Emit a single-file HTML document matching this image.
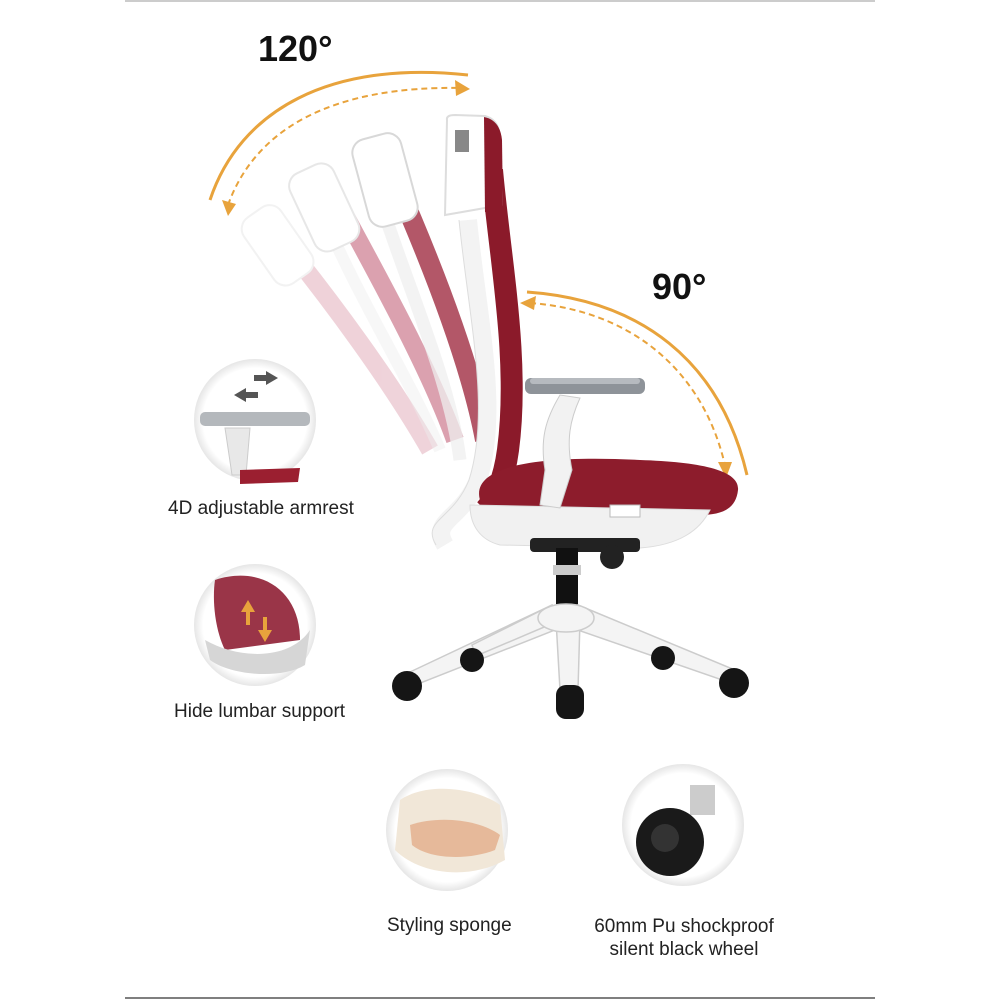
<!DOCTYPE html>
<html><head><style>
html,body{margin:0;padding:0;background:#fff;}
body{width:1000px;height:1000px;position:relative;overflow:hidden;font-family:"Liberation Sans","DejaVu Sans",sans-serif;}
.t{position:absolute;color:#222;white-space:nowrap;}
</style></head><body>
<svg width="1000" height="1000" viewBox="0 0 1000 1000" style="position:absolute;left:0;top:0">
<defs>
<marker id="ah" markerWidth="8" markerHeight="8" refX="4" refY="4" orient="auto" markerUnits="userSpaceOnUse"><path d="M0,0 L8,4 L0,8 Z" fill="#e8a33c"/></marker>
<radialGradient id="cg" cx="50%" cy="50%" r="50%"><stop offset="85%" stop-color="#fff"/><stop offset="100%" stop-color="#e6e6e6"/></radialGradient>
</defs>
<line x1="125" y1="1" x2="875" y2="1" stroke="#bbb" stroke-width="1.5"/>
<line x1="125" y1="998" x2="875" y2="998" stroke="#555" stroke-width="1.5"/>
<!-- 120 arc -->
<path d="M210 200 C240 110 330 60 468 75" fill="none" stroke="#e8a33c" stroke-width="3"/>
<path d="M228 205 C255 130 330 85 465 88" fill="none" stroke="#e8a33c" stroke-width="2" stroke-dasharray="6,4"/>
<path d="M455 80 L470 89 L456 96 Z" fill="#e8a33c"/>
<path d="M222 200 L228 216 L236 204 Z" fill="#e8a33c"/>
<!-- 90 arc -->
<path d="M527 292 C640 300 720 360 747 475" fill="none" stroke="#e8a33c" stroke-width="3"/>
<path d="M530 303 C630 310 705 370 726 470" fill="none" stroke="#e8a33c" stroke-width="2" stroke-dasharray="6,4"/>
<path d="M520 303 L536 296 L534 310 Z" fill="#e8a33c"/>
<path d="M718 462 L726 478 L732 462 Z" fill="#e8a33c"/>
<!-- ghost backs -->
<g opacity="0.25">
<path d="M290 250 C330 300 390 380 430 450" stroke="#c0506a" stroke-width="18" fill="none"/>
<rect x="255" y="205" width="45" height="80" rx="14" fill="#fff" stroke="#ccc" stroke-width="2" transform="rotate(-35 278 245)"/>
</g>
<g opacity="0.45">
<path d="M345 215 C380 280 430 370 455 440" stroke="#b03050" stroke-width="18" fill="none"/>
<path d="M330 230 C360 300 410 380 440 450" stroke="#eee" stroke-width="12" fill="none"/>
<rect x="300" y="165" width="48" height="85" rx="14" fill="#fff" stroke="#ccc" stroke-width="2" transform="rotate(-25 324 207)"/>
</g>
<g opacity="0.75">
<path d="M395 180 C430 260 470 360 485 440" stroke="#9a2036" stroke-width="20" fill="none"/>
<path d="M380 200 C405 280 450 380 460 460" stroke="#f0f0f0" stroke-width="13" fill="none"/>
<rect x="360" y="135" width="50" height="90" rx="14" fill="#fff" stroke="#ccc" stroke-width="2" transform="rotate(-15 385 180)"/>
</g>
<!-- main back -->
<path d="M468 220 C478 320 500 410 478 480 C462 520 430 520 445 545" stroke="#f3f3f3" stroke-width="18" fill="none"/>
<path d="M468 220 C478 320 500 410 478 480 C462 520 430 520 445 545" stroke="#ddd" stroke-width="1" fill="none" transform="translate(-9 0)"/>
<path d="M492 170 C500 260 520 360 508 450 C504 480 495 500 485 510" stroke="#8b1a2a" stroke-width="22" fill="none"/>
<path d="M447 120 Q446 115 455 115 L485 116 Q500 120 500 140 L502 205 L445 215 Z" fill="#fff" stroke="#ddd" stroke-width="2"/>
<path d="M484 117 Q500 120 502 140 L503 210 L485 212 Z" fill="#8b1a2a"/>
<rect x="455" y="130" width="14" height="22" fill="#888"/>
<!-- seat -->
<path d="M480 500 C470 465 540 455 640 460 C700 462 740 470 738 490 C736 510 720 515 700 515 L500 520 Z" fill="#8d1c2c"/>
<path d="M470 505 L710 510 C700 530 680 545 640 548 L500 545 C480 540 470 525 470 505 Z" fill="#f1f1f1" stroke="#ddd"/>
<rect x="610" y="505" width="30" height="12" fill="#fff" stroke="#bbb"/>
<!-- armrest -->
<path d="M560 395 C545 420 540 440 545 470 L540 505 L560 508 L572 470 C566 440 570 420 580 398 Z" fill="#f2f2f2" stroke="#ccc"/>
<rect x="525" y="378" width="120" height="16" rx="6" fill="#8e9399"/>
<rect x="530" y="378" width="110" height="6" rx="3" fill="#b6babf"/>
<!-- mechanism & gas lift -->
<rect x="530" y="538" width="110" height="14" rx="4" fill="#222"/>
<circle cx="612" cy="557" r="12" fill="#222"/>
<rect x="556" y="548" width="22" height="60" fill="#111"/>
<rect x="553" y="565" width="28" height="10" fill="#ccc"/>
<!-- base -->
<g fill="#f4f4f4" stroke="#ccc" stroke-width="1.5">
<path d="M552 605 L410 672 L418 684 L560 628 Z"/>
<path d="M552 605 L472 645 L476 656 L556 622 Z"/>
<path d="M575 605 L660 645 L656 656 L572 622 Z"/>
<path d="M578 605 L735 670 L728 682 L572 628 Z"/>
<path d="M556 620 L560 690 L578 690 L580 620 Z"/>
<ellipse cx="566" cy="618" rx="28" ry="14"/>
</g>
<g fill="#151515">
<circle cx="407" cy="686" r="15"/><circle cx="472" cy="660" r="12"/>
<circle cx="663" cy="658" r="12"/><circle cx="734" cy="683" r="15"/>
<rect x="556" y="685" width="28" height="34" rx="10"/>
</g>
<!-- circles -->
<circle cx="255" cy="420" r="61" fill="url(#cg)"/>
<rect x="200" y="412" width="110" height="14" rx="5" fill="#b4b8bc"/>
<path d="M225 428 L250 428 L246 475 L232 475 Z" fill="#e8e8e8" stroke="#ccc"/>
<path d="M240 470 L300 468 L298 482 L240 484 Z" fill="#9b1f30"/>
<path d="M234 395 L246 388 L246 392 L258 392 L258 398 L246 398 L246 402 Z" fill="#555"/>
<path d="M278 378 L266 371 L266 375 L254 375 L254 381 L266 381 L266 385 Z" fill="#555"/>
<circle cx="255" cy="625" r="61" fill="url(#cg)"/>
<path d="M215 580 C260 565 300 590 300 640 L225 650 C215 630 212 600 215 580 Z" fill="#9a3548"/>
<path d="M205 640 C240 660 290 660 310 630 L305 665 C280 680 230 675 210 660 Z" fill="#d6d6d6"/>
<path d="M248 600 L255 612 L250 612 L250 625 L246 625 L246 612 L241 612 Z" fill="#e8a33c"/>
<path d="M265 642 L272 630 L267 630 L267 617 L263 617 L263 630 L258 630 Z" fill="#e8a33c"/>
<circle cx="447" cy="830" r="61" fill="url(#cg)"/>
<path d="M400 800 C430 780 480 790 500 805 L505 860 C470 880 420 875 395 850 Z" fill="#f1e7d8"/>
<path d="M410 825 C440 815 480 820 500 835 L495 850 C470 860 430 860 412 845 Z" fill="#e6b99a"/>
<circle cx="683" cy="825" r="61" fill="url(#cg)"/>
<rect x="690" y="785" width="25" height="30" fill="#ccc"/>
<circle cx="670" cy="842" r="34" fill="#1a1a1a"/>
<circle cx="665" cy="838" r="14" fill="#333"/>
</svg>
<div class="t" style="left:258px;top:28px;font-size:36px;font-weight:bold;color:#111">120°</div>
<div class="t" style="left:652px;top:266px;font-size:36px;font-weight:bold;color:#111">90°</div>
<div class="t" style="left:168px;top:498px;font-size:19px">4D adjustable armrest</div>
<div class="t" style="left:174px;top:701px;font-size:19px">Hide lumbar support</div>
<div class="t" style="left:387px;top:915px;font-size:19px">Styling sponge</div>
<div class="t" style="left:586px;top:915px;font-size:19px;width:196px;text-align:center;line-height:23px">60mm Pu shockproof<br>silent black wheel</div>
</body></html>
